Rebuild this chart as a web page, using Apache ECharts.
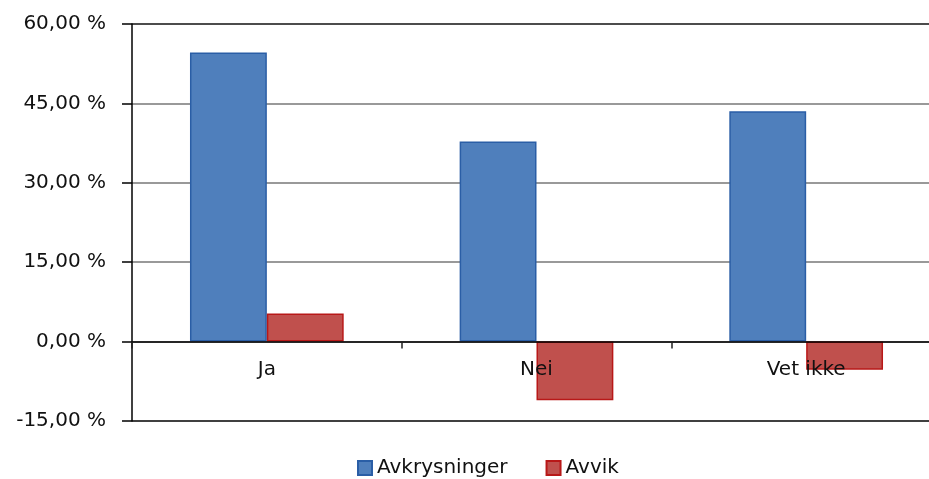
<!DOCTYPE html>
<html>
<head>
<meta charset="utf-8">
<script src="https://cdn.jsdelivr.net/npm/echarts@6/dist/echarts.min.js"></script>
<style>html,body{margin:0;padding:0;background:#fff;overflow:hidden;}#c{width:929px;height:479px;}</style>
</head>
<body>
<div id="c"></div>
<script>
var categories = ['Ja', 'Nei', 'Vet ikke'];
var avkrysninger = [54.6, 37.8, 43.5];
var avvik = [5.3, -11.1, -5.3];
var yTicks = { min: -15, max: 60, interval: 15 };

var chart = echarts.init(document.getElementById('c'));
chart.setOption({
  animation: false,
  backgroundColor: '#ffffff',
  grid: { left: 132, right: -12, top: 24, bottom: 58, containLabel: false, outerBoundsMode: 'none' },
  legend: {
    left: 352, top: 453,
    icon: 'rect', itemWidth: 14, itemHeight: 14, itemGap: 38,
    textStyle: { fontFamily: 'DejaVu Sans', fontSize: 20, color: '#111' },
    data: ['Avkrysninger', 'Avvik']
  },
  xAxis: {
    type: 'category',
    data: categories,
    z: 5,
    axisLine: { onZero: true, lineStyle: { color: '#000', width: 1.5 } },
    axisTick: { show: true, length: 7, lineStyle: { color: '#222', width: 1.5 } },
    axisLabel: { fontFamily: 'DejaVu Sans', fontSize: 20, color: '#111', margin: -61 },
    splitLine: { show: false }
  },
  yAxis: {
    type: 'value',
    min: yTicks.min, max: yTicks.max, interval: yTicks.interval,
    axisLine: { show: true, lineStyle: { color: '#000', width: 1.5 } },
    axisTick: { show: true, inside: false, length: 10, lineStyle: { color: '#000', width: 1.5 } },
    axisLabel: {
      fontFamily: 'DejaVu Sans', fontSize: 20, color: '#111', margin: 26,
      formatter: function (v) { return v.toFixed(2).replace('.', ',') + ' %'; }
    },
    splitLine: { show: true, lineStyle: { color: ['#000', '#777', '#777', '#777', '#777', '#111'], width: 1.5 } }
  },
  series: [
    {
      name: 'Avkrysninger', type: 'bar', data: avkrysninger,
      barGap: '0%', barCategoryGap: '43%',
      itemStyle: { color: '#4f7fbc', borderColor: '#2a5ea6', borderWidth: 1.5 }
    },
    {
      name: 'Avvik', type: 'bar', data: avvik,
      itemStyle: { color: '#c0504d', borderColor: '#b81818', borderWidth: 1.5 }
    }
  ]
});
</script>
</body>
</html>
